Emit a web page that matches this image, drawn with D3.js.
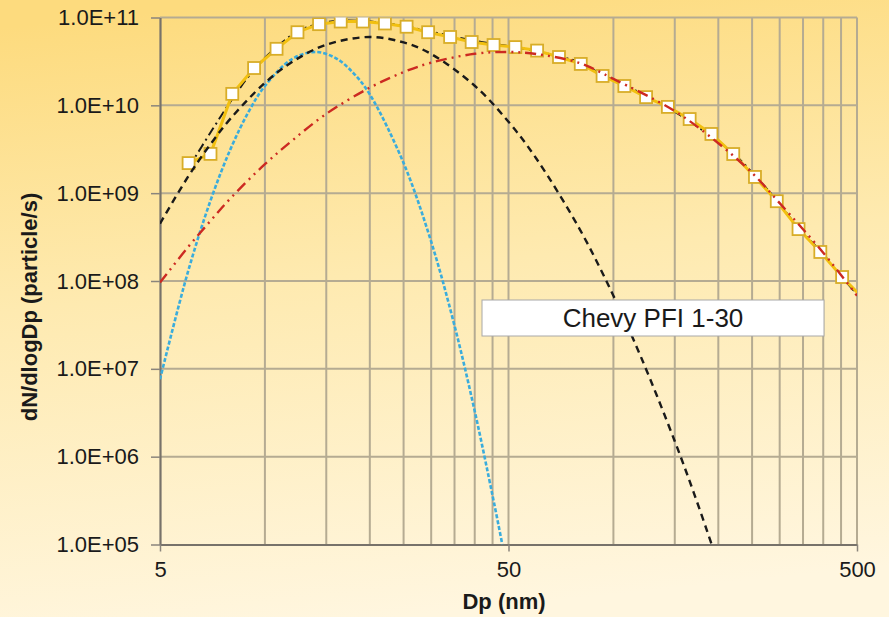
<!DOCTYPE html>
<html>
<head>
<meta charset="utf-8">
<script src="https://cdn.jsdelivr.net/npm/d3@7"></script>
<style>
  html, body { margin: 0; padding: 0; }
  body { width: 889px; height: 617px; overflow: hidden; }
  text { font-family: "Liberation Sans", Arial, sans-serif; fill: #1a1a1a; }
</style>
</head>
<body>
<svg id="chart" width="889" height="617"></svg>
<script>
// Particle size channels (nm) and measured emission spectrum
const dpChannels = [6.04, 6.98, 8.06, 9.31, 10.8, 12.4, 14.3, 16.5, 19.1, 22.1, 25.5, 29.4, 34.0, 39.2, 45.3,
  52.3, 60.4, 69.8, 80.6, 93.1, 107.5, 124.1, 143.3, 165.5, 191.1, 220.7, 254.8, 294.3, 339.8, 392.4, 453.2, 523.3];
const measured = [2.2e9, 2.8e9, 1.35e10, 2.66e10, 4.4e10, 6.8e10, 8.4e10, 9.0e10, 9.0e10, 8.55e10, 7.85e10,
  6.8e10, 6.0e10, 5.26e10, 4.86e10, 4.6e10, 4.2e10, 3.55e10, 2.96e10, 2.16e10, 1.66e10, 1.24e10, 9.6e9,
  6.98e9, 4.72e9, 2.79e9, 1.53e9, 8.1e8, 3.9e8, 2.14e8, 1.11e8, 6.2e7];

// Fitted total (sum of modes) at the same channels
const fitTotal = [1.95e9, 4.9e9, 1.18e10, 2.55e10, 4.6e10, 6.9e10, 8.5e10, 9.2e10, 9.1e10, 8.6e10, 7.9e10,
  7.0e10, 6.2e10, 5.5e10, 5.0e10, 4.6e10, 4.1e10, 3.6e10, 3.05e10, 2.22e10, 1.72e10, 1.27e10, 9.4e9,
  6.6e9, 4.4e9, 2.85e9, 1.58e9, 8.3e8, 4.0e8, 2.2e8, 1.1e8, 5.8e7];

// Nucleation mode (blue)
const nucDp = [5, 6, 7, 8, 9, 10, 12, 14, 16, 18, 20, 25, 30, 35, 40, 45, 48];
const nucN = [7.6e6, 1.23e8, 8.5e8, 3.3e9, 8.6e9, 1.66e10, 3.39e10, 4.05e10, 3.43e10, 2.3e10, 1.33e10,
  2.2e9, 2.8e8, 3.1e7, 3.3e6, 3.6e5, 1.0e5];

// Second mode (black dashed)
const modeDp = [5, 6, 7, 8, 10, 12, 15, 20, 25, 30, 40, 50, 60, 80, 100, 120, 150, 170, 190, 195];
const modeN = [4.5e8, 1.51e9, 3.67e9, 7.2e9, 1.8e10, 3.14e10, 4.9e10, 6.0e10, 5.2e10, 3.84e10, 1.67e10,
  6.5e9, 2.5e9, 3.9e8, 6.8e7, 1.36e7, 1.5e6, 3.9e5, 1.09e5, 8e4];

// Accumulation mode (red)
const accDp = [5, 6, 7, 8, 10, 12, 15, 20, 25, 30, 40, 50, 60, 80, 100, 150, 200, 250, 300, 400, 500];
const accN = [9.6e7, 2.4e8, 4.9e8, 8.9e8, 2.14e9, 4.0e9, 8.0e9, 1.59e10, 2.39e10, 3.06e10, 3.86e10, 4.05e10,
  3.84e10, 3.03e10, 2.0e10, 8.6e9, 3.7e9, 1.7e9, 7.7e8, 2.1e8, 6.8e7];

const xTicks = [5, 50, 500];
const xGrid = [10, 15, 20, 25, 30, 35, 40, 45, 50, 100, 150, 200, 250, 300, 350, 400, 450, 500];
const yTicks = [1e5, 1e6, 1e7, 1e8, 1e9, 1e10, 1e11];
const boxLabel = "Chevy PFI 1-30";

const W = 889, H = 617;
const plot = { left: 160, right: 857, top: 17.5, bottom: 544.5 };

const svg = d3.select("#chart");
const defs = svg.append("defs");

const bg = defs.append("linearGradient").attr("id", "bg")
  .attr("x1", "0.3").attr("y1", "0").attr("x2", "0.45").attr("y2", "1");
bg.append("stop").attr("offset", "0").attr("stop-color", "#fddb7e");
bg.append("stop").attr("offset", "0.45").attr("stop-color", "#feeab0");
bg.append("stop").attr("offset", "1").attr("stop-color", "#fff6df");

defs.append("clipPath").attr("id", "plotClip")
  .append("rect")
  .attr("x", plot.left).attr("y", plot.top)
  .attr("width", plot.right - plot.left).attr("height", plot.bottom - plot.top);

svg.append("rect").attr("width", W).attr("height", H).attr("fill", "url(#bg)");

const x = d3.scaleLog().domain([5, 500]).range([plot.left, plot.right]);
const y = d3.scaleLog().domain([1e5, 1e11]).range([plot.bottom, plot.top]);

// Grid
const grid = svg.append("g");
grid.selectAll("line.v").data(xGrid).join("line")
  .attr("x1", d => x(d)).attr("x2", d => x(d))
  .attr("y1", plot.top).attr("y2", plot.bottom)
  .attr("stroke", "#b5ab92").attr("stroke-width", 2);
grid.selectAll("line.h").data(yTicks.slice(1)).join("line")
  .attr("x1", plot.left).attr("x2", plot.right)
  .attr("y1", d => y(d)).attr("y2", d => y(d))
  .attr("stroke", "#b5ab92").attr("stroke-width", 2);

// Axes
const fmtE = d => {
  const e = Math.round(Math.log10(d));
  return "1.0E+" + String(e).padStart(2, "0");
};
const yAxis = svg.append("g").attr("transform", `translate(${plot.left},0)`)
  .call(d3.axisLeft(y).tickValues(yTicks).tickFormat(fmtE).tickSizeInner(9).tickSizeOuter(0).tickPadding(12));
const xAxis = svg.append("g").attr("transform", `translate(0,${plot.bottom})`)
  .call(d3.axisBottom(x).tickValues(xTicks).tickFormat(d3.format("d")).tickSizeInner(7).tickSizeOuter(0).tickPadding(10));
[yAxis, xAxis].forEach(a => {
  a.select(".domain").attr("stroke", "#77726a").attr("stroke-width", 2.2);
  a.selectAll(".tick line").attr("stroke", "#8a857c").attr("stroke-width", 1.5);
  a.selectAll(".tick text").style("font-size", "22px").attr("fill", "#1a1a1a");
});

svg.append("text").attr("x", 504).attr("y", 609).attr("text-anchor", "middle")
  .style("font-size", "22px").style("font-weight", "bold").text("Dp (nm)");
svg.append("text").attr("transform", "translate(37,307) rotate(-90)").attr("text-anchor", "middle")
  .style("font-size", "22px").style("font-weight", "bold").text("dN/dlogDp (particle/s)");

// Series
const layer = svg.append("g").attr("clip-path", "url(#plotClip)");
const lineLin = d3.line().x(d => x(d[0])).y(d => y(d[1]));
const lineSmooth = d3.line().x(d => x(d[0])).y(d => y(d[1])).curve(d3.curveCatmullRom.alpha(0.5));

const zip = (a, b) => a.map((v, i) => [v, b[i]]);

// fitted total sits underneath the measured trace
layer.append("path").datum(zip(dpChannels, fitTotal))
  .attr("d", lineSmooth).attr("fill", "none")
  .attr("stroke", "#1a1a1a").attr("stroke-width", 2).attr("stroke-dasharray", "9,4,2,4");

layer.append("path").datum(zip(dpChannels, measured))
  .attr("d", lineLin).attr("fill", "none")
  .attr("stroke", "#f2c010").attr("stroke-width", 3).attr("stroke-linejoin", "round");
layer.selectAll("rect.m").data(zip(dpChannels, measured)).join("rect")
  .attr("x", d => x(d[0]) - 6).attr("y", d => y(d[1]) - 6)
  .attr("width", 12).attr("height", 12)
  .attr("fill", "#ffffff").attr("stroke", "#d8ad28").attr("stroke-width", 1.8);

layer.append("path").datum(zip(nucDp, nucN))
  .attr("d", lineSmooth).attr("fill", "none")
  .attr("stroke", "#3aacdc").attr("stroke-width", 2.6).attr("stroke-dasharray", "4,2");

layer.append("path").datum(zip(modeDp, modeN))
  .attr("d", lineSmooth).attr("fill", "none")
  .attr("stroke", "#1a1a1a").attr("stroke-width", 2.4).attr("stroke-dasharray", "7,5");

layer.append("path").datum(zip(accDp, accN))
  .attr("d", lineSmooth).attr("fill", "none")
  .attr("stroke", "#cc2a22").attr("stroke-width", 2.4).attr("stroke-dasharray", "11,5,2,5,2,5");

// Label box
const box = svg.append("g");
box.append("rect").attr("x", 482).attr("y", 300).attr("width", 342).attr("height", 36)
  .attr("fill", "#ffffff").attr("stroke", "#a8a8a8").attr("stroke-width", 1);
box.append("text").attr("x", 653).attr("y", 327).attr("text-anchor", "middle")
  .style("font-size", "26px").text(boxLabel);
</script>
</body>
</html>
